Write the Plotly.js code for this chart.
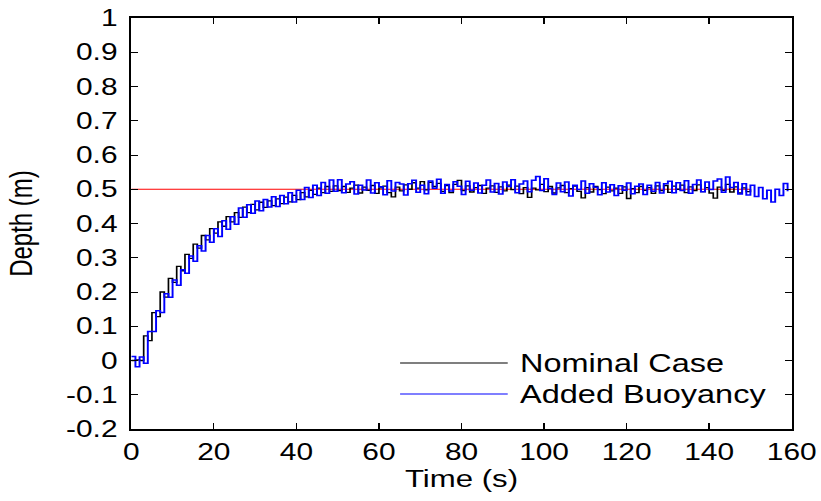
<!DOCTYPE html>
<html>
<head>
<meta charset="utf-8">
<script src="https://cdn.plot.ly/plotly-3.0.1.min.js"></script>
<style>
html, body { margin: 0; padding: 0; background: #fff; overflow: hidden; }
#chart { width: 632px; height: 501px; transform: scaleX(1.3); transform-origin: 0 0; }
</style>
</head>
<body>
<div id="chart"></div>
<script>
// Time (s), 1 s steps
const timeBuoy = [];
for (let i = 0; i <= 159; i++) timeBuoy.push(i);
const timeNominal = [];
for (let i = 0; i <= 150; i++) timeNominal.push(i);

// Depth (m) - Nominal Case, t = 0..150
const depthNominal = [
  0.000, 0.002, 0.000, 0.072, 0.058, 0.140, 0.128, 0.200, 0.185, 0.240,
  0.228, 0.275, 0.262, 0.310, 0.298, 0.340, 0.328, 0.365, 0.352, 0.385,
  0.372, 0.405, 0.392, 0.420, 0.405, 0.432, 0.418, 0.448, 0.432, 0.456,
  0.440, 0.462, 0.447, 0.466, 0.452, 0.472, 0.458, 0.477, 0.463, 0.482,
  0.470, 0.490, 0.478, 0.497, 0.485, 0.503, 0.490, 0.508, 0.494, 0.510,
  0.496, 0.508, 0.491, 0.503, 0.512, 0.489, 0.506, 0.497, 0.511, 0.488,
  0.504, 0.509, 0.490, 0.478, 0.506, 0.495, 0.513, 0.500, 0.519, 0.503,
  0.522, 0.498, 0.520, 0.508, 0.517, 0.494, 0.511, 0.490, 0.514, 0.526,
  0.496, 0.510, 0.492, 0.505, 0.511, 0.488, 0.503, 0.510, 0.491, 0.507,
  0.495, 0.512, 0.499, 0.509, 0.487, 0.505, 0.476, 0.503, 0.498, 0.514,
  0.493, 0.508, 0.489, 0.504, 0.511, 0.490, 0.502, 0.509, 0.494, 0.475,
  0.505, 0.492, 0.508, 0.499, 0.487, 0.506, 0.495, 0.503, 0.488, 0.507,
  0.473, 0.502, 0.490, 0.508, 0.497, 0.505, 0.488, 0.510, 0.496, 0.511,
  0.491, 0.509, 0.500, 0.512, 0.490, 0.507, 0.496, 0.513, 0.493, 0.505,
  0.489, 0.474, 0.506, 0.497, 0.514, 0.492, 0.507, 0.489, 0.504, 0.493,
  0.500
];

// Depth (m) - Added Buoyancy, t = 0..159
const depthBuoy = [
  0.012, -0.018, 0.010, -0.008, 0.085, 0.085, 0.145, 0.140, 0.195, 0.185,
  0.235, 0.220, 0.265, 0.255, 0.305, 0.290, 0.335, 0.320, 0.365, 0.345,
  0.385, 0.362, 0.408, 0.383, 0.420, 0.398, 0.445, 0.418, 0.455, 0.430,
  0.466, 0.437, 0.470, 0.448, 0.478, 0.450, 0.482, 0.458, 0.490, 0.463,
  0.497, 0.470, 0.505, 0.476, 0.512, 0.482, 0.520, 0.488, 0.527, 0.494,
  0.528, 0.490, 0.515, 0.522, 0.486, 0.512, 0.498, 0.527, 0.489, 0.519,
  0.507, 0.484, 0.525, 0.495, 0.520, 0.515, 0.483, 0.516, 0.526, 0.491,
  0.512, 0.487, 0.524, 0.503, 0.529, 0.488, 0.514, 0.495, 0.522, 0.509,
  0.485, 0.523, 0.497, 0.518, 0.489, 0.512, 0.527, 0.492, 0.517, 0.486,
  0.521, 0.508, 0.528, 0.490, 0.515, 0.524, 0.493, 0.526, 0.537, 0.496,
  0.531, 0.502, 0.485, 0.518, 0.493, 0.521, 0.480, 0.512, 0.499, 0.524,
  0.488, 0.516, 0.506, 0.484, 0.519, 0.492, 0.513, 0.482, 0.510, 0.497,
  0.518, 0.487, 0.509, 0.515, 0.485, 0.512, 0.494, 0.520, 0.489, 0.516,
  0.523, 0.490, 0.519, 0.496, 0.525, 0.488, 0.514, 0.527, 0.493, 0.521,
  0.499, 0.524, 0.530, 0.491, 0.536, 0.505, 0.520, 0.486, 0.516, 0.483,
  0.512, 0.479, 0.505, 0.472, 0.497, 0.463, 0.500, 0.482, 0.517, 0.494
];

// Reference depth (setpoint)
const setTime = [0, 150];
const setDepth = [0.5, 0.5];

const xTickVals = [0, 20, 40, 60, 80, 100, 120, 140, 160];
const yTickVals = [-0.2, -0.1, 0, 0.1, 0.2, 0.3, 0.4, 0.5, 0.6, 0.7, 0.8, 0.9, 1];
const yTickText = ['-0.2', '-0.1', '0', '0.1', '0.2', '0.3', '0.4', '0.5', '0.6', '0.7', '0.8', '0.9', '1'];

const seriesNames = ['Nominal Case', 'Added Buoyancy'];

const FONT = 'Liberation Sans, Arial, sans-serif';

const traces = [
  { x: setTime, y: setDepth, type: 'scatter', mode: 'lines',
    line: { color: '#ff0000', width: 1 }, name: 'Reference', showlegend: false, hoverinfo: 'skip' },
  { x: timeNominal, y: depthNominal, type: 'scatter', mode: 'lines',
    line: { color: '#000000', width: 1.3, shape: 'hv' }, name: seriesNames[0], showlegend: false },
  { x: timeBuoy, y: depthBuoy, type: 'scatter', mode: 'lines',
    line: { color: '#0000ff', width: 1.5, shape: 'hv' }, name: seriesNames[1], showlegend: false }
];

const layout = {
  width: 632, height: 501,
  margin: { l: 101, r: 23, t: 18, b: 72 },
  paper_bgcolor: '#ffffff', plot_bgcolor: '#ffffff',
  font: { family: FONT, color: '#000', size: 23 },
  showlegend: false,
  xaxis: {
    range: [0, 160], tickvals: xTickVals, ticktext: xTickVals.map(String),
    ticks: 'inside', ticklen: 6, tickwidth: 1, tickcolor: '#000',
    showline: true, linewidth: 2, linecolor: '#000', mirror: 'ticks',
    showgrid: false, zeroline: false,
    tickfont: { family: FONT, size: 23, color: '#000' },
    ticklabelstandoff: 1,
    title: { text: 'Time (s)', font: { family: FONT, size: 24, color: '#000' }, standoff: 0 }
  },
  yaxis: {
    range: [-0.2, 1], tickvals: yTickVals, ticktext: yTickText,
    ticks: 'inside', ticklen: 5, tickwidth: 1, tickcolor: '#000',
    showline: true, linewidth: 2, linecolor: '#000', mirror: 'ticks',
    showgrid: false, zeroline: false,
    tickfont: { family: FONT, size: 23, color: '#000' },
    ticklabelstandoff: 4,
    title: { text: 'Depth (m)', font: { family: FONT, size: 24, color: '#000' }, standoff: 19 }
  },
  shapes: [
    { type: 'line', xref: 'paper', yref: 'paper', x0: 0.407, x1: 0.570, y0: 0.1606, y1: 0.1606,
      line: { color: '#000000', width: 1 } },
    { type: 'line', xref: 'paper', yref: 'paper', x0: 0.407, x1: 0.570, y0: 0.0852, y1: 0.0852,
      line: { color: '#0000ff', width: 1 } }
  ],
  annotations: [
    { xref: 'paper', yref: 'paper', x: 0.584, y: 0.1606, xanchor: 'left', yanchor: 'middle',
      text: seriesNames[0], showarrow: false, font: { family: FONT, size: 25, color: '#000' } },
    { xref: 'paper', yref: 'paper', x: 0.584, y: 0.0852, xanchor: 'left', yanchor: 'middle',
      text: seriesNames[1], showarrow: false, font: { family: FONT, size: 25, color: '#000' } }
  ]
};

Plotly.newPlot('chart', traces, layout, { staticPlot: true, displayModeBar: false });
</script>
</body>
</html>
